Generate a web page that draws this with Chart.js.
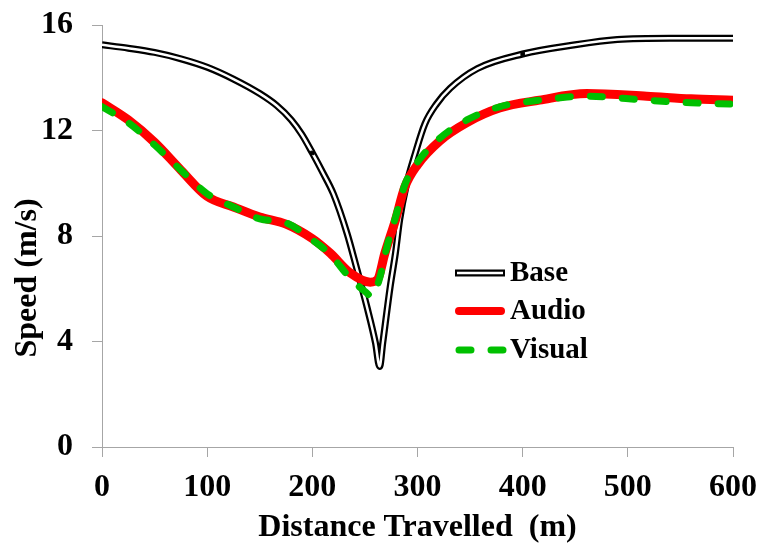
<!DOCTYPE html>
<html>
<head>
<meta charset="utf-8">
<title>Speed vs Distance</title>
<script src="https://cdn.jsdelivr.net/npm/chart.js@4.4.0/dist/chart.umd.min.js"></script>
<style>
html, body { margin: 0; padding: 0; background: #fff; }
</style>
</head>
<body>
<canvas id="speedChart" width="760" height="544"></canvas>
<script>
// distances (m) and speeds (m/s)
var baseDist    = [0, 25, 50, 75, 100, 125, 150, 166, 180, 190, 200, 210, 220, 233, 242, 252, 260, 264, 267, 274, 279, 283, 289, 298, 307, 318, 331, 357, 400, 450, 490, 540, 600];
var baseSpeed   = [15.25, 15.12, 14.96, 14.72, 14.4, 13.95, 13.4, 12.95, 12.4, 11.85, 11.15, 10.4, 9.6, 8.1, 6.8, 5.3, 3.95, 3.05, 3.95, 6.07, 7.35, 8.6, 9.86, 11.15, 12.25, 13.0, 13.6, 14.35, 14.9, 15.25, 15.45, 15.5, 15.5];

var audioDist   = [0, 25, 50, 75, 100, 125, 150, 175, 200, 217, 236, 255, 262, 269, 279, 288, 300, 321, 347, 378, 416, 461, 518, 560, 600];
var audioSpeed  = [13.05, 12.4, 11.55, 10.5, 9.5, 9.1, 8.72, 8.45, 7.9, 7.35, 6.6, 6.25, 6.35, 7.35, 8.6, 9.86, 10.7, 11.6, 12.3, 12.85, 13.15, 13.4, 13.3, 13.2, 13.15];

var visualDist  = [0, 25, 50, 75, 100, 125, 150, 175, 200, 217, 236, 250, 257, 264, 271, 279, 288, 300, 321, 347, 378, 416, 461, 518, 560, 600];
var visualSpeed = [12.9, 12.3, 11.45, 10.5, 9.6, 9.1, 8.65, 8.5, 7.85, 7.3, 6.4, 5.9, 5.7, 6.4, 7.6, 8.7, 9.95, 10.8, 11.7, 12.4, 12.9, 13.15, 13.3, 13.15, 13.05, 13.0];

var baseMarks = [200, 400];
var xTicks = [0, 100, 200, 300, 400, 500, 600];
var yTicks = [0, 4, 8, 12, 16];

var serif = '"Liberation Serif", "Times New Roman", serif';
var axisGray = '#a6a6a6';

function toPoints(xs, ys) {
	return xs.map(function (x, i) { return { x: x, y: ys[i] }; });
}

// legend drawn inside the plot, Excel style
var insideLegend = {
	id: 'insideLegend',
	afterDraw: function (chart) {
		var ctx = chart.ctx, area = chart.chartArea;
		var x0 = area.left + 353, x1 = x0 + 50;
		var rows = [
			{ text: 'Base', y: area.top + 248 },
			{ text: 'Audio', y: area.top + 286 },
			{ text: 'Visual', y: area.top + 325 }
		];
		ctx.save();
		// base: double line
		ctx.lineCap = 'butt';
		ctx.strokeStyle = '#000';
		ctx.lineWidth = 7;
		ctx.beginPath(); ctx.moveTo(x0, rows[0].y); ctx.lineTo(x1, rows[0].y); ctx.stroke();
		ctx.strokeStyle = '#fff';
		ctx.lineWidth = 2.5;
		ctx.beginPath(); ctx.moveTo(x0 + 2, rows[0].y); ctx.lineTo(x1 - 2, rows[0].y); ctx.stroke();
		// audio
		ctx.lineCap = 'round';
		ctx.strokeStyle = '#ff0000';
		ctx.lineWidth = 8;
		ctx.beginPath(); ctx.moveTo(x0 + 4, rows[1].y); ctx.lineTo(x1 - 4, rows[1].y); ctx.stroke();
		// visual
		ctx.strokeStyle = '#00c000';
		ctx.lineWidth = 7;
		ctx.setLineDash([12, 20]);
		ctx.beginPath(); ctx.moveTo(x0 + 4, rows[2].y); ctx.lineTo(x1, rows[2].y); ctx.stroke();
		ctx.setLineDash([]);
		ctx.fillStyle = '#000';
		ctx.font = 'bold 29px ' + serif;
		ctx.textAlign = 'left';
		ctx.textBaseline = 'middle';
		rows.forEach(function (r) { ctx.fillText(r.text, x1 + 5, r.y + 1); });
		ctx.restore();
	}
};

// y title sits lower than the axis middle in the original
var yTitle = {
	id: 'yTitle',
	afterDraw: function (chart) {
		var ctx = chart.ctx, area = chart.chartArea;
		ctx.save();
		ctx.translate(28, (area.top + area.bottom) / 2 + 42);
		ctx.rotate(-Math.PI / 2);
		ctx.font = 'bold 32px ' + serif;
		ctx.fillStyle = '#000';
		ctx.textAlign = 'center';
		ctx.textBaseline = 'middle';
		ctx.fillText('Speed (m/s)', 0, 0);
		ctx.restore();
	}
};

var ctx = document.getElementById('speedChart').getContext('2d');
new Chart(ctx, {
	type: 'line',
	data: {
		datasets: [{
			label: 'Visual',
			data: toPoints(visualDist, visualSpeed),
			borderColor: '#00c000',
			borderWidth: 7,
			borderDash: [12, 20],
			borderCapStyle: 'round',
			order: 0
		}, {
			label: 'Audio',
			data: toPoints(audioDist, audioSpeed),
			borderColor: '#ff0000',
			borderWidth: 9,
			borderCapStyle: 'round',
			order: 1
		}, {
			label: 'Base (inner)',
			data: toPoints(baseDist, baseSpeed),
			borderColor: '#ffffff',
			borderWidth: 2.5,
			pointStyle: 'rect',
			pointRadius: function (c) {
				var p = c.raw;
				return p && baseMarks.indexOf(p.x) >= 0 ? 2.5 : 0;
			},
			pointBackgroundColor: '#000',
			pointBorderColor: '#000',
			pointBorderWidth: 1,
			order: 2
		}, {
			label: 'Base',
			data: toPoints(baseDist, baseSpeed),
			borderColor: '#000000',
			borderWidth: 7,
			order: 3
		}]
	},
	options: {
		responsive: false,
		animation: false,
		layout: { padding: { left: 0, right: 27, top: 25, bottom: 0 } },
		elements: {
			point: { radius: 0, hoverRadius: 0 },
			line: { cubicInterpolationMode: 'monotone', fill: false }
		},
		plugins: {
			legend: { display: false },
			tooltip: { enabled: false }
		},
		scales: {
			x: {
				type: 'linear',
				min: 0,
				max: 600,
				afterBuildTicks: function (axis) {
					axis.ticks = xTicks.map(function (v) { return { value: v }; });
				},
				afterFit: function (scale) {
					scale.height = 97;
					scale.paddingLeft = 0;
					scale.paddingRight = 0;
				},
				grid: { drawOnChartArea: false, drawTicks: true, tickLength: 10, color: axisGray, tickColor: axisGray },
				border: { color: axisGray, width: 1 },
				ticks: {
					autoSkip: false,
					maxRotation: 0,
					padding: 12,
					color: '#000',
					font: { family: serif, size: 32, weight: 'bold', lineHeight: 1.2 }
				},
				title: {
					display: true,
					text: 'Distance Travelled  (m)',
					color: '#000',
					padding: { top: 0, bottom: 0 },
					font: { family: serif, size: 32, weight: 'bold', lineHeight: 1 }
				}
			},
			y: {
				min: 0,
				max: 16,
				afterBuildTicks: function (axis) {
					axis.ticks = yTicks.map(function (v) { return { value: v }; });
				},
				afterFit: function (scale) {
					scale.width = 102;
					scale.paddingTop = 0;
					scale.paddingBottom = 0;
				},
				grid: { drawOnChartArea: false, drawTicks: true, tickLength: 10, color: axisGray, tickColor: axisGray },
				border: { color: axisGray, width: 1 },
				ticks: {
					padding: 19,
					color: '#000',
					font: { family: serif, size: 32, weight: 'bold', lineHeight: 1.2 }
				},
				title: { display: false }
			}
		}
	},
	plugins: [insideLegend, yTitle]
});
</script>
</body>
</html>
